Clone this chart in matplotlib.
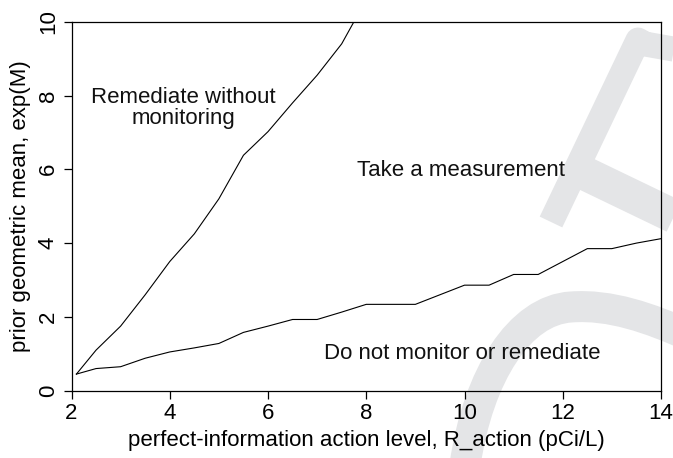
"""Decision regions for radon monitoring vs. perfect-information action level."""
import matplotlib
matplotlib.use("Agg")
import matplotlib.pyplot as plt
from matplotlib.path import Path
from matplotlib.patches import PathPatch

plt.rcParams["font.family"] = ["Liberation Sans", "DejaVu Sans"]

# upper boundary: remediate without monitoring / take a measurement
r_upper = [2.1, 2.5, 3.0, 3.5, 4.0, 4.5, 5.0, 5.5, 6.0, 6.5, 7.0, 7.5, 7.75]
gm_upper = [0.45, 1.1, 1.75, 2.6, 3.5, 4.25, 5.2, 6.38, 7.02, 7.8, 8.55, 9.4, 10.0]

# lower boundary: take a measurement / do not monitor or remediate
r_lower = [2.1, 2.5, 3.0, 3.5, 4.0, 4.5, 5.0, 5.5, 6.0, 6.5, 7.0, 7.5, 8.0,
           8.5, 9.0, 9.5, 10.0, 10.5, 11.0, 11.5, 12.0, 12.5, 13.0, 13.5, 14.0]
gm_lower = [0.45, 0.6, 0.65, 0.88, 1.05, 1.16, 1.28, 1.58, 1.75, 1.93, 1.93,
            2.13, 2.34, 2.34, 2.34, 2.6, 2.86, 2.86, 3.15, 3.15, 3.5, 3.85,
            3.85, 4.0, 4.12]

regions = ["Remediate without\nmonitoring", "Take a measurement",
           "Do not monitor or remediate"]
region_xy = [(4.27, 7.65), (9.93, 5.96), (9.95, 1.0)]

W, H = 673, 458
fig = plt.figure(figsize=(W / 100, H / 100), dpi=100)
ax = fig.add_axes([71.5 / W, 1 - 390.7 / H, (661 - 71.5) / W, (390.7 - 21.7) / H])
ax.patch.set_visible(False)


# faint grey watermark behind the plot (pixel coords, y from top)
def stroke(pts, codes, width):
    verts = [(x, H - y) for x, y in pts]
    p = PathPatch(Path(verts, codes), transform=None, fill=False,
                  edgecolor="#e4e5e7", linewidth=width * 0.72,
                  capstyle="butt", joinstyle="round", zorder=-10)
    fig.add_artist(p)


M, L, C = Path.MOVETO, Path.LINETO, Path.CURVE4
stroke([(465, 465), (478, 375), (520, 310), (571, 307),
        (610, 304), (650, 318), (690, 336)], [M, C, C, C, C, C, C], 31)
stroke([(551, 222), (638, 40), (645, 44), (690, 52)], [M, L, L, L], 25)
stroke([(582, 172), (690, 224)], [M, L], 34)

ax.plot(r_upper, gm_upper, color="black", linewidth=0.8)
ax.plot(r_lower, gm_lower, color="black", linewidth=0.8)

for label, (x, y) in zip(regions, region_xy):
    ax.text(x, y, label, ha="center", va="center", fontsize=16,
            linespacing=1.0, color="#111111")

ax.set_xlim(2, 14)
ax.set_ylim(0, 10)
ax.set_xticks(range(2, 15, 2))
ax.set_yticks(range(0, 11, 2))
ax.tick_params(direction="out", length=6, width=0.9, labelsize=16, pad=3)
plt.setp(ax.get_yticklabels(), rotation=90, va="center")
for s in ax.spines.values():
    s.set_linewidth(0.9)

ax.set_xlabel("perfect-information action level, R_action (pCi/L)", fontsize=16, labelpad=4)
ax.set_ylabel("prior geometric mean, exp(M)", fontsize=16, labelpad=5)

fig.savefig("out.png", dpi=100)
